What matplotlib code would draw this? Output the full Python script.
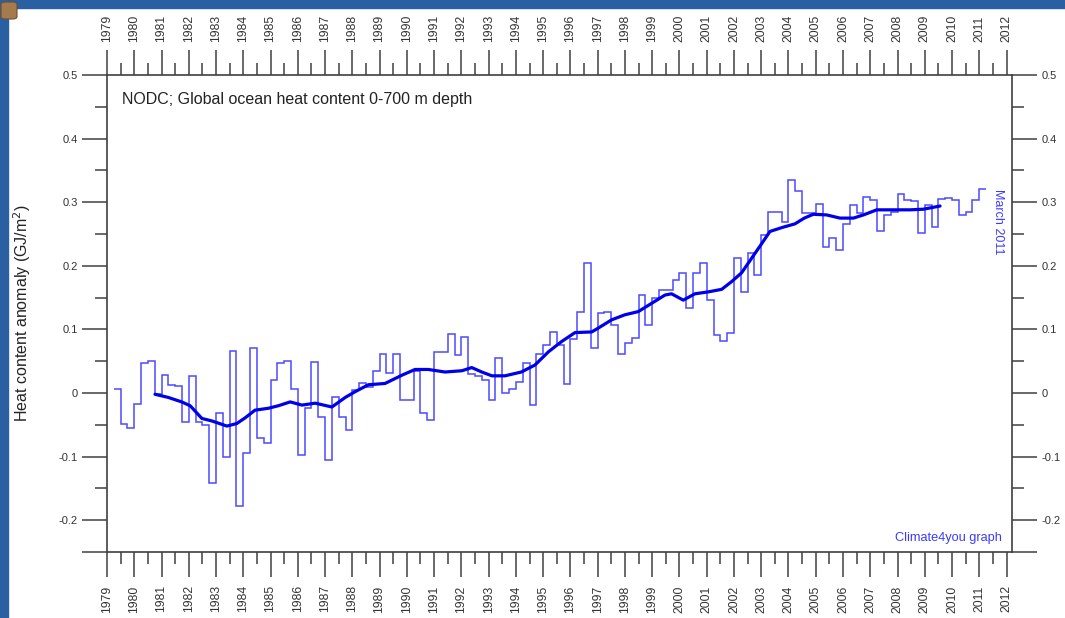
import numpy as np
import matplotlib.pyplot as plt
from matplotlib.patches import Rectangle, FancyBboxPatch
from matplotlib.ticker import FixedLocator, FuncFormatter

plt.rcParams['font.family'] = ['Liberation Sans', 'DejaVu Sans']

# %% data
# quarterly ocean heat content anomaly (GJ/m2), first quarter starts 1979.25
first_quarter = 1979.25
quarterly = [
    0.007, -0.048, -0.055, -0.017, 0.047, 0.050, -0.002, 0.028, 0.013, 0.011,
    -0.045, 0.026, -0.045, -0.050, -0.142, -0.031, -0.101, 0.066, -0.178, -0.095,
    0.070, -0.070, -0.079, 0.020, 0.047, 0.050, 0.006, -0.097, -0.024, 0.049,
    -0.037, -0.106, -0.006, -0.037, -0.058, 0.005, 0.016, 0.010, 0.034, 0.062,
    0.031, 0.062, -0.011, -0.011, 0.034, -0.032, -0.042, 0.065, 0.065, 0.092,
    0.060, 0.088, 0.030, 0.026, 0.020, -0.011, 0.055, 0.000, 0.007, 0.018,
    0.047, -0.019, 0.062, 0.075, 0.096, 0.075, 0.014, 0.085, 0.128, 0.205,
    0.071, 0.126, 0.128, 0.107, 0.062, 0.078, 0.087, 0.154, 0.107, 0.149,
    0.162, 0.162, 0.178, 0.188, 0.133, 0.188, 0.205, 0.146, 0.091, 0.081,
    0.095, 0.213, 0.159, 0.220, 0.186, 0.248, 0.285, 0.285, 0.269, 0.335,
    0.317, 0.283, 0.283, 0.297, 0.229, 0.243, 0.225, 0.266, 0.296, 0.283,
    0.308, 0.303, 0.255, 0.280, 0.285, 0.313, 0.303, 0.302, 0.252, 0.296,
    0.261, 0.305, 0.306, 0.303, 0.280, 0.285, 0.303, 0.321,
]

# running mean (thick line), read as points
smooth_years = [
    1980.76, 1981.25, 1981.74, 1982.05, 1982.48, 1982.85, 1983.40, 1983.76,
    1984.07, 1984.43, 1984.92, 1985.29, 1985.72, 1986.15, 1986.64, 1987.25,
    1987.74, 1988.10, 1988.59, 1989.20, 1989.82, 1990.30, 1990.79, 1991.40,
    1992.02, 1992.38, 1992.75, 1993.12, 1993.60, 1994.20, 1994.70, 1995.20,
    1995.68, 1996.17, 1996.78, 1997.02, 1997.51, 1998.00, 1998.49, 1998.98,
    1999.47, 1999.71, 2000.14, 2000.57, 2001.06, 2001.55, 2001.91, 2002.28,
    2002.65, 2003.02, 2003.32, 2003.75, 2004.24, 2004.58, 2004.91, 2005.40,
    2005.89, 2006.38, 2006.75, 2007.24, 2007.85, 2008.46, 2008.95, 2009.56,
]
smooth_vals = [
    -0.002, -0.007, -0.014, -0.020, -0.040, -0.044, -0.052, -0.048,
    -0.039, -0.027, -0.024, -0.020, -0.014, -0.019, -0.016, -0.022,
    -0.007, 0.002, 0.013, 0.015, 0.028, 0.037, 0.037, 0.033,
    0.035, 0.040, 0.033, 0.027, 0.027, 0.033, 0.044, 0.065,
    0.081, 0.095, 0.096, 0.102, 0.115, 0.123, 0.128, 0.141,
    0.154, 0.156, 0.146, 0.156, 0.159, 0.163, 0.175, 0.189,
    0.212, 0.235, 0.254, 0.260, 0.266, 0.275, 0.281, 0.280,
    0.275, 0.275, 0.280, 0.288, 0.288, 0.288, 0.289, 0.294,
]

year_ticks = list(range(1979, 2013))
value_ticks = [-0.25, -0.2, -0.1, 0, 0.1, 0.2, 0.3, 0.4, 0.5]
value_minor = [-0.15, -0.05, 0.05, 0.15, 0.25, 0.35, 0.45]

title = 'NODC; Global ocean heat content 0-700 m depth'
ylabel = 'Heat content anomaly (GJ/m$^2$)'

# %% figure
W, H = 1065, 618
fig = plt.figure(figsize=(W / 100, H / 100), dpi=100)
frame_blue = '#2a5fa3'
fig.patches.append(Rectangle((0, 1 - 8 / H), 1, 8 / H, transform=fig.transFigure,
                             color=frame_blue, zorder=0))
fig.patches.append(Rectangle((0, 0), 8 / W, 1, transform=fig.transFigure,
                             color=frame_blue, zorder=0))
fig.patches.append(FancyBboxPatch((1 / W, 1 - 19 / H), 16 / W, 17 / H,
                                  boxstyle='round,pad=0,rounding_size=0.004',
                                  transform=fig.transFigure, facecolor='#a47b4f',
                                  edgecolor='#6e4f2e', lw=0.8, zorder=1))

ax = fig.add_axes([107 / W, 1 - 552 / H, (1012 - 107) / W, (552 - 75) / H])

edges = first_quarter + 0.25 * np.arange(len(quarterly) + 1)
ax.stairs(quarterly, edges, baseline=None, color='#4a4aff', lw=1.1)
ax.plot(smooth_years, smooth_vals, color='#0000e8', lw=2.3, solid_capstyle='round')

ax.set_xlim(1979.0, 2012.2)
ax.set_ylim(-0.25, 0.5)

gray = '#404040'
for s in ax.spines.values():
    s.set_color(gray)
    s.set_linewidth(1.2)


def value_label(v, pos):
    if v < -0.22:
        return ''
    return '%g' % round(v, 2)


ax.xaxis.set_major_locator(FixedLocator(year_ticks))
ax.xaxis.set_minor_locator(FixedLocator([y + 0.5 for y in year_ticks[:-1]]))
ax.xaxis.set_major_formatter(FuncFormatter(lambda v, p: '%d' % v))
ax.yaxis.set_major_locator(FixedLocator(value_ticks))
ax.yaxis.set_minor_locator(FixedLocator(value_minor))
ax.yaxis.set_major_formatter(FuncFormatter(value_label))

ax.tick_params(axis='both', which='major', direction='out', length=18, width=1.1,
               color=gray, labelcolor='#333333', labelsize=8)
ax.tick_params(axis='both', which='minor', direction='out', length=8.5, width=1.1,
               color=gray)
ax.tick_params(axis='x', which='both', top=True, bottom=True,
               labeltop=True, labelbottom=True)
ax.tick_params(axis='x', which='major', labelrotation=90, pad=6, labelsize=8.8)
ax.tick_params(axis='y', which='both', left=True, right=True,
               labelleft=True, labelright=True)
ax.tick_params(axis='y', which='major', pad=3)

ax.text(0.017, 0.948, title, transform=ax.transAxes, fontsize=11.5,
        color='#222222', va='center', ha='left')
ax.text(0.985, 0.692, 'March 2011', transform=ax.transAxes, fontsize=9,
        color='#3a3aff', rotation=270, va='center', ha='center')
ax.text(0.9885, 0.03, 'Climate4you graph', transform=ax.transAxes, fontsize=9.2,
        color='#3a3aff', va='center', ha='right')
fig.text(22 / W, 1 - 313 / H, ylabel, rotation=90, fontsize=11.5, color='#222222',
         va='center', ha='center')

fig.savefig('out.png', dpi=100, facecolor='white')
